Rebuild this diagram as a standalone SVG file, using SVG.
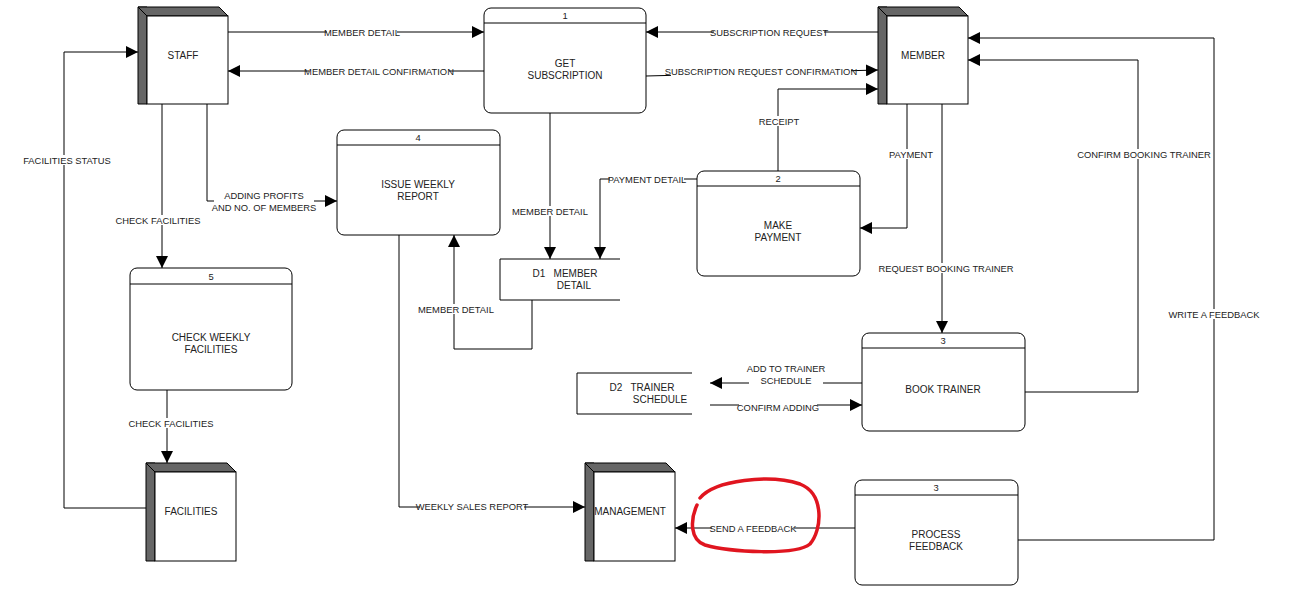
<svg xmlns="http://www.w3.org/2000/svg" width="1289" height="601" viewBox="0 0 1289 601">
<defs>
<marker id="a" viewBox="0 0 10 10" refX="10" refY="5" markerWidth="12" markerHeight="12" markerUnits="userSpaceOnUse" orient="auto"><path d="M0,0L10,5L0,10z" fill="#000"/></marker>
<style>
text{font-family:"Liberation Sans",Arial,sans-serif;font-size:9.4px;fill:#222;text-anchor:middle;white-space:pre}
.n{font-size:10px}
.c{fill:none;stroke:#000;stroke-width:1;marker-end:url(#a)}
.lb{fill:#fff}
.p{fill:#fff;stroke:#000;stroke-width:1}
.s{fill:#666;stroke:#000}
</style>
</defs>
<rect width="1289" height="601" fill="#fff"/>
<g id="connectors">
<path class="c" d="M228,32H484"/><rect class="lb" x="327" y="27" width="70" height="10"/><text x="362" y="36">MEMBER DETAIL</text>
<path class="c" d="M484,71H228"/><rect class="lb" x="309" y="66" width="140" height="10"/><text x="379" y="75">MEMBER DETAIL CONFIRMATION</text>
<path class="c" d="M878,32H646"/><rect class="lb" x="714" y="27" width="110" height="10"/><text x="769" y="36">SUBSCRIPTION REQUEST</text>
<path class="c" d="M646,76L878,70"/><rect class="lb" x="671" y="66" width="180" height="10"/><text x="761" y="75">SUBSCRIPTION REQUEST CONFIRMATION</text>
<path class="c" d="M550,113V259"/><rect class="lb" x="514" y="206" width="72" height="10"/><text x="550" y="215">MEMBER DETAIL</text>
<path class="c" d="M697,179H600V259"/><rect class="lb" x="610" y="174" width="74" height="10"/><text x="647" y="183">PAYMENT DETAIL</text>
<path class="c" d="M778,171V89H878"/><rect class="lb" x="760" y="116" width="38" height="10"/><text x="779" y="125">RECEIPT</text>
<path class="c" d="M907,104V228H860"/><rect class="lb" x="890" y="149" width="42" height="10"/><text x="911" y="158">PAYMENT</text>
<path class="c" d="M942,104V333"/><rect class="lb" x="884" y="263" width="125" height="10"/><text x="946" y="272">REQUEST BOOKING TRAINER</text>
<path class="c" d="M1025,392H1138V60H968"/><rect class="lb" x="1082" y="149" width="125" height="10"/><text x="1144" y="158">CONFIRM BOOKING TRAINER</text>
<path class="c" d="M1018,540H1214V38H968"/><rect class="lb" x="1171" y="309" width="86" height="10"/><text x="1214" y="318">WRITE A FEEDBACK</text>
<path class="c" d="M862,383H710"/><rect class="lb" x="749" y="363" width="74" height="22"/><text x="786" y="372">ADD TO TRAINER</text><text x="786" y="384">SCHEDULE</text>
<path class="c" d="M710,405H862"/><rect class="lb" x="739" y="402" width="78" height="10"/><text x="778" y="411">CONFIRM ADDING</text>
<path class="c" d="M855,528H675"/><rect class="lb" x="712" y="523" width="82" height="10"/><text x="753" y="532">SEND A FEEDBACK</text>
<path class="c" d="M399,235V507H585"/><rect class="lb" x="420" y="501" width="104" height="10"/><text x="472" y="510">WEEKLY SALES REPORT</text>
<path class="c" d="M207,104V201H337"/><rect class="lb" x="214" y="190" width="100" height="22"/><text x="264" y="199">ADDING PROFITS</text><text x="264" y="211">AND NO. OF MEMBERS</text>
<path class="c" d="M162,104V268"/><rect class="lb" x="119" y="215" width="78" height="10"/><text x="158" y="224">CHECK FACILITIES</text>
<path class="c" d="M167,390V463"/><rect class="lb" x="132" y="418" width="78" height="10"/><text x="171" y="427">CHECK FACILITIES</text>
<path class="c" d="M146,508H64V52H138"/><rect class="lb" x="26" y="155" width="82" height="10"/><text x="67" y="164">FACILITIES STATUS</text>
<path class="c" d="M532,300V349H454V235"/><rect class="lb" x="420" y="304" width="72" height="10"/><text x="456" y="313">MEMBER DETAIL</text>
</g>
<g id="staff"><path class="s" d="M138,7H147V104H138z"/><path class="s" d="M138,7L147,16H228L219,7z"/><rect class="p" x="147" y="16" width="81" height="88"/><text class="n" x="183" y="59">STAFF</text></g>
<g id="member"><path class="s" d="M878,7H887V104H878z"/><path class="s" d="M878,7L887,16H968L959,7z"/><rect class="p" x="887" y="16" width="81" height="88"/><text class="n" x="923" y="59">MEMBER</text></g>
<g id="facilities"><path class="s" d="M146,463H155V561H146z"/><path class="s" d="M146,463L155,472H236L227,463z"/><rect class="p" x="155" y="472" width="81" height="89"/><text class="n" x="191" y="515">FACILITIES</text></g>
<g id="management"><path class="s" d="M585,463H594V561H585z"/><path class="s" d="M585,463L594,472H675L666,463z"/><rect class="p" x="594" y="472" width="81" height="89"/><text class="n" x="630" y="515">MANAGEMENT</text></g>
<g id="p1"><rect class="p" x="484" y="8" width="162" height="105" rx="7"/><path d="M484,23H646" stroke="#000"/><text x="565" y="19">1</text><text class="n" x="565" y="67">GET</text><text class="n" x="565" y="79">SUBSCRIPTION</text></g>
<g id="p4"><rect class="p" x="337" y="130" width="163" height="105" rx="7"/><path d="M337,145H500" stroke="#000"/><text x="418" y="141">4</text><text class="n" x="418" y="188">ISSUE WEEKLY</text><text class="n" x="418" y="200">REPORT</text></g>
<g id="p2"><rect class="p" x="697" y="171" width="163" height="105" rx="7"/><path d="M697,186H860" stroke="#000"/><text x="778" y="182">2</text><text class="n" x="778" y="229">MAKE</text><text class="n" x="778" y="241">PAYMENT</text></g>
<g id="p5"><rect class="p" x="130" y="268" width="162" height="122" rx="7"/><path d="M130,284H292" stroke="#000"/><text x="211" y="280">5</text><text class="n" x="211" y="341">CHECK WEEKLY</text><text class="n" x="211" y="353">FACILITIES</text></g>
<g id="p3"><rect class="p" x="862" y="333" width="163" height="98" rx="7"/><path d="M862,348H1025" stroke="#000"/><text x="943" y="344">3</text><text class="n" x="943" y="393">BOOK TRAINER</text></g>
<g id="p3b"><rect class="p" x="855" y="480" width="163" height="105" rx="7"/><path d="M855,495H1018" stroke="#000"/><text x="936" y="491">3</text><text class="n" x="936" y="538">PROCESS</text><text class="n" x="936" y="550">FEEDBACK</text></g>
<g id="d1"><path d="M620,259H500V300H620" fill="#fff" stroke="#000"/><text class="n" x="565" y="277">D1   MEMBER</text><text class="n" x="574" y="289">DETAIL</text></g>
<g id="d2"><path d="M692,373H577V414H692" fill="#fff" stroke="#000"/><text class="n" x="642" y="391">D2   TRAINER</text><text class="n" x="660" y="403">SCHEDULE</text></g>
<path d="M700,498C715,480 770,474 800,484C825,494 822,530 810,544C795,556 730,552 705,545C690,540 690,520 697,505" fill="none" stroke="#e0151f" stroke-width="3.5" stroke-linecap="round"/>
</svg>
